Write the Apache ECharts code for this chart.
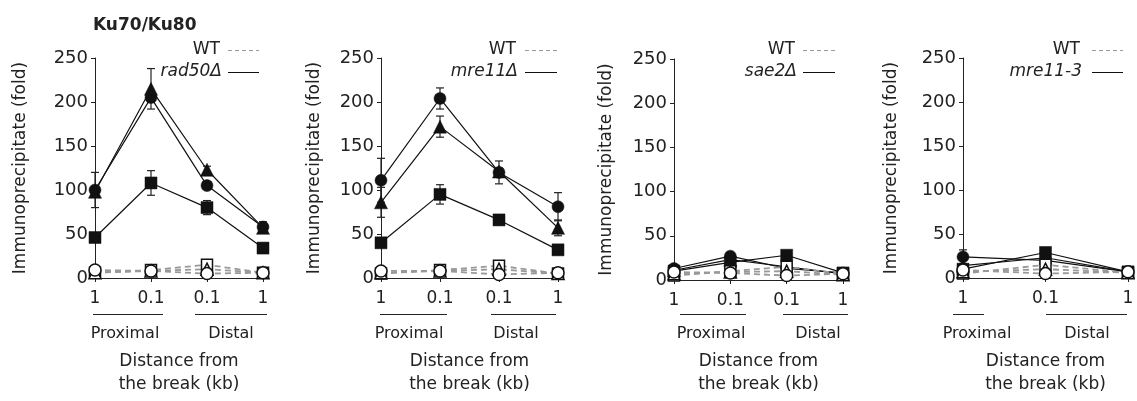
<!DOCTYPE html>
<html>
<head>
<meta charset="utf-8">
<script src="https://cdn.jsdelivr.net/npm/echarts@6/dist/echarts.min.js"></script>
<style>
  html, body { margin: 0; background: #fff; }
  #chart { width: 1137px; height: 401px; }
</style>
</head>
<body>
<div id="chart"></div>
<script>
// x categories (distance from the break, kb)
const cats4 = ['1', '0.1', '0.1', '1']
const cats3 = ['1', '0.1', '1']
const yTicks = [0, 50, 100, 150, 200, 250]

// panel 1: rad50Δ
const rad50Circle = [100, 205, 105, 58]
const rad50CircleErr = [20, 5, 3, 6]
const rad50Triangle = [98, 215, 123, 57]
const rad50TriangleErr = [3, 23, 4, 4]
const rad50Square = [46, 108, 80, 34]
const rad50SquareErr = [3, 14, 8, 3]
const wt1Square = [6, 9, 15, 6]
const wt1Triangle = [6, 8, 10, 6]
const wt1Circle = [9, 8, 5, 6]

// panel 2: mre11Δ
const mre11Circle = [111, 204, 120, 81]
const mre11CircleErr = [25, 12, 13, 16]
const mre11Triangle = [86, 172, 121, 57]
const mre11TriangleErr = [17, 12, 4, 9]
const mre11Square = [40, 95, 66, 32]
const mre11SquareErr = [3, 11, 3, 3]
const wt2Square = [5, 9, 14, 5]
const wt2Triangle = [6, 8, 10, 5]
const wt2Circle = [8, 8, 4, 6]

// panel 3: sae2Δ
const sae2Circle = [13, 27, 13, 8]
const sae2CircleErr = [3, 2, 2, 1]
const sae2Triangle = [11, 23, 15, 7]
const sae2TriangleErr = [2, 2, 2, 1]
const sae2Square = [10, 20, 28, 8]
const sae2SquareErr = [2, 2, 2, 1]
const wt3Square = [5, 10, 15, 7]
const wt3Triangle = [7, 9, 10, 6]
const wt3Circle = [9, 8, 5, 7]

// panel 4: mre11-3
const m113Circle = [24, 20, 7]
const m113CircleErr = [8, 2, 1]
const m113Triangle = [14, 23, 7]
const m113TriangleErr = [2, 2, 1]
const m113Square = [10, 29, 7]
const m113SquareErr = [2, 2, 1]
const wt4Square = [5, 15, 6]
const wt4Triangle = [7, 10, 6]
const wt4Circle = [9, 5, 7]

const FONT = 'DejaVu Sans'
const INK = '#222'
const GREY = '#999'

const panels = [
  { name: 'rad50Δ', cats: cats4, left: 95, width: 168, top: 58, height: 221, nameGap: 66,
    mut: [[rad50Square, rad50SquareErr], [rad50Circle, rad50CircleErr], [rad50Triangle, rad50TriangleErr]],
    wt: [wt1Square, wt1Triangle, wt1Circle],
    legendX: 220, lineX: [228, 259],
    prox: [93, 163, 125], dist: [195, 267, 231] },
  { name: 'mre11Δ', cats: cats4, left: 381, width: 177, top: 58, height: 221, nameGap: 58,
    mut: [[mre11Square, mre11SquareErr], [mre11Circle, mre11CircleErr], [mre11Triangle, mre11TriangleErr]],
    wt: [wt2Square, wt2Triangle, wt2Circle],
    legendX: 516, lineX: [525, 557],
    prox: [380, 447, 409], dist: [491, 556, 516] },
  { name: 'sae2Δ', cats: cats4, left: 674, width: 169, top: 59, height: 222, nameGap: 59,
    mut: [[sae2Square, sae2SquareErr], [sae2Circle, sae2CircleErr], [sae2Triangle, sae2TriangleErr]],
    wt: [wt3Square, wt3Triangle, wt3Circle],
    legendX: 795, lineX: [803, 835],
    prox: [680, 746, 711], dist: [783, 848, 818] },
  { name: 'mre11-3', cats: cats3, left: 963, width: 165, top: 58, height: 222, nameGap: 63,
    mut: [[m113Square, m113SquareErr], [m113Circle, m113CircleErr], [m113Triangle, m113TriangleErr]],
    wt: [wt4Square, wt4Triangle, wt4Circle],
    legendX: 1080, lineX: [1092, 1123],
    prox: [953, 984, 977], dist: [1046, 1127, 1087] },
]

// mutant: square, circle, triangle; WT: square, triangle, circle (circle on top)
const MUT_SYMBOLS = ['rect', 'circle', 'triangle']
const MUT_SIZES = [12, 12, 13]
const WT_SYMBOLS = ['rect', 'triangle', 'circle']
const WT_SIZES = [11, 12, 12]

const grids = [], xAxes = [], yAxes = [], series = [], graphics = []

panels.forEach((p, i) => {
  grids.push({ left: p.left, width: p.width, top: p.top, height: p.height })
  xAxes.push({
    type: 'category', gridIndex: i, data: p.cats, boundaryGap: false,
    axisLine: { lineStyle: { color: INK, width: 1 } },
    axisTick: { length: 4, lineStyle: { color: INK } },
    axisLabel: { color: INK, fontFamily: FONT, fontSize: 17, margin: 12 },
    name: 'Distance from\nthe break (kb)', nameLocation: 'middle', nameGap: i === 2 ? 70 : 72,
    nameTextStyle: { color: INK, fontFamily: FONT, fontSize: 17, lineHeight: 23 },
  })
  yAxes.push({
    type: 'value', gridIndex: i, min: 0, max: 250, interval: 50,
    axisLine: { show: true, lineStyle: { color: INK, width: 1 } },
    axisTick: { show: true, length: 4, lineStyle: { color: INK } },
    splitLine: { show: false },
    axisLabel: { color: INK, fontFamily: FONT, fontSize: 18, margin: 7,
      formatter: v => yTicks.includes(v) ? String(v) : '' },
    name: 'Immunoprecipitate (fold)', nameLocation: 'middle', nameGap: p.nameGap,
    nameTextStyle: { color: INK, fontFamily: FONT, fontSize: 17 },
  })

  // error bars (mutant)
  const errData = []
  p.mut.forEach(([vals, errs]) => {
    vals.forEach((v, k) => errData.push([k, v - errs[k], v + errs[k]]))
  })
  series.push({
    type: 'custom', xAxisIndex: i, yAxisIndex: i, z: 1, silent: true,
    encode: { x: 0, y: [1, 2] },
    data: errData,
    renderItem: (params, api) => {
      const lo = api.coord([api.value(0), api.value(1)])
      const hi = api.coord([api.value(0), api.value(2)])
      const st = { stroke: INK, lineWidth: 1.2 }
      return {
        type: 'group',
        children: [
          { type: 'line', shape: { x1: lo[0], y1: lo[1], x2: hi[0], y2: hi[1] }, style: st },
          { type: 'line', shape: { x1: lo[0] - 4, y1: lo[1], x2: lo[0] + 4, y2: lo[1] }, style: st },
          { type: 'line', shape: { x1: hi[0] - 4, y1: hi[1], x2: hi[0] + 4, y2: hi[1] }, style: st },
        ],
      }
    },
  })

  // mutant series (filled, solid black)
  p.mut.forEach(([vals], k) => {
    series.push({
      name: p.name, type: 'line', xAxisIndex: i, yAxisIndex: i, z: 3,
      data: vals, symbol: MUT_SYMBOLS[k], symbolSize: MUT_SIZES[k],
      lineStyle: { color: '#111', width: 1.2 },
      itemStyle: { color: '#111', borderColor: '#111', borderWidth: 0.5 },
    })
  })
  // WT series (open, dashed grey)
  p.wt.forEach((vals, k) => {
    series.push({
      name: 'WT', type: 'line', xAxisIndex: i, yAxisIndex: i, z: 4,
      data: vals, symbol: WT_SYMBOLS[k], symbolSize: WT_SIZES[k],
      lineStyle: { color: GREY, width: 1.8, type: [6, 4] },
      itemStyle: { color: '#fff', borderColor: '#111', borderWidth: 1.5 },
    })
  })

  // legend (text then line sample)
  graphics.push(
    { type: 'text', x: p.legendX, y: 50, style: { text: 'WT', fill: INK, font: `17px "${FONT}"`, align: 'right', verticalAlign: 'middle' } },
    { type: 'line', shape: { x1: p.lineX[0], y1: 50.5, x2: p.lineX[1], y2: 50.5 }, style: { stroke: GREY, lineWidth: 1, lineDash: [4, 3] } },
    { type: 'text', x: p.legendX + 2, y: 72, style: { text: p.name, fill: INK, font: `italic 17px "${FONT}"`, align: 'right', verticalAlign: 'middle' } },
    { type: 'line', shape: { x1: p.lineX[0], y1: 72.5, x2: p.lineX[1], y2: 72.5 }, style: { stroke: '#111', lineWidth: 1 } },
  )
  // Proximal / Distal brackets
  const lab = (seg, txt) => [
    { type: 'line', shape: { x1: seg[0], y1: 314.5, x2: seg[1], y2: 314.5 }, style: { stroke: INK, lineWidth: 1 } },
    { type: 'text', x: seg[2], y: 334, style: { text: txt, fill: INK, font: `16px "${FONT}"`, align: 'center', verticalAlign: 'middle' } },
  ]
  graphics.push(...lab(p.prox, 'Proximal'), ...lab(p.dist, 'Distal'))
})

const chart = echarts.init(document.getElementById('chart'))
chart.setOption({
  animation: false,
  backgroundColor: '#fff',
  title: { text: 'Ku70/Ku80', left: 88, top: 12,
    textStyle: { color: INK, fontFamily: FONT, fontSize: 17, fontWeight: 'bold' } },
  grid: grids,
  xAxis: xAxes,
  yAxis: yAxes,
  series: series,
  graphic: graphics,
})
</script>
</body>
</html>
